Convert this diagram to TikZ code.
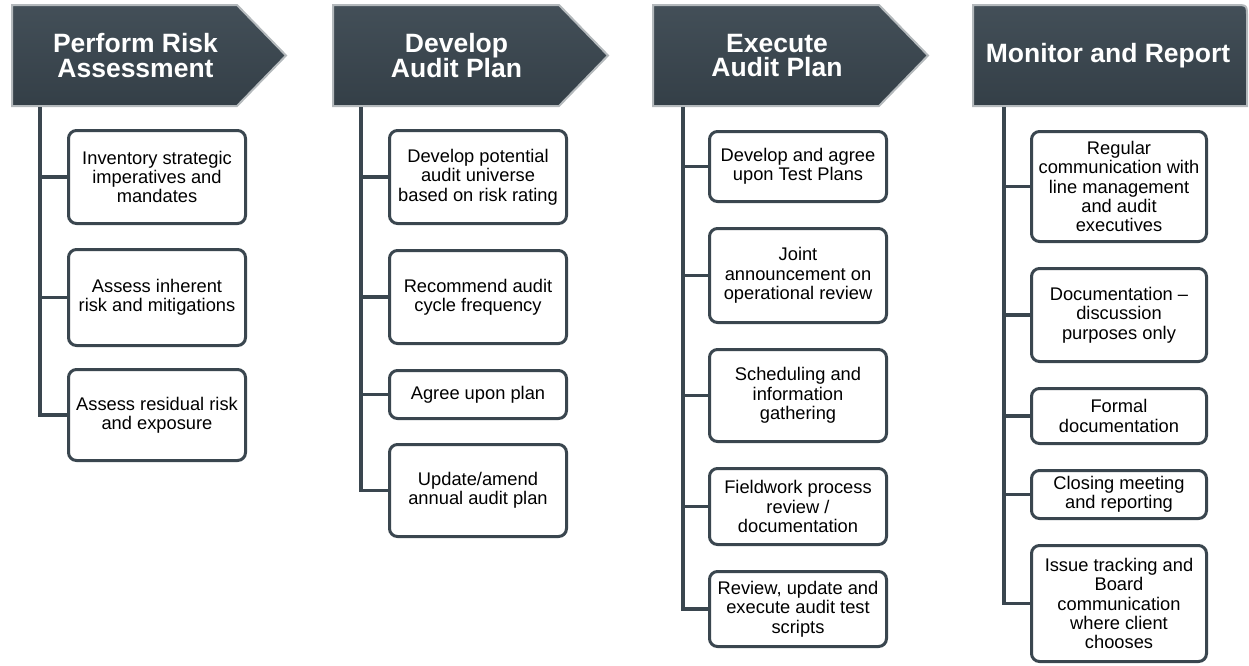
\documentclass[tikz,border=0pt]{standalone}
\usepackage{fontspec}
\setmainfont{Liberation Sans}
\definecolor{slate}{HTML}{3A464F}
\definecolor{htop}{HTML}{434F58}
\definecolor{hbot}{HTML}{343F47}
\definecolor{hedge}{HTML}{B4B9BC}
\begin{document}
\begin{tikzpicture}[x=1pt,y=-1pt,
  header/.style={top color=htop, bottom color=hbot, draw=hedge, line width=2pt, line join=miter},
  htext/.style={text=white, font=\bfseries\fontsize{26.5}{24.3}\selectfont, align=center, inner sep=0pt},
  box/.style={draw=slate, line width=3pt, rounded corners=8pt, fill=white, align=center,
    font=\fontsize{18.3}{19.3}\selectfont, inner sep=1pt, text=black},
  box1/.style={box, minimum width=177pt},
  box4/.style={box, minimum width=175pt},
  conn/.style={draw=slate, line width=3.5pt}]
\useasboundingbox (0,0) rectangle (1249,665);

% headers
\shadedraw[header] (12,5) -- (237,5) -- (286,55.5) -- (237,106) -- (12,106) -- cycle;
\shadedraw[header] (333,5) -- (559,5) -- (608,55.5) -- (559,106) -- (333,106) -- cycle;
\shadedraw[header] (653,5) -- (879,5) -- (928,55.5) -- (879,106) -- (653,106) -- cycle;
\shadedraw[header] (973,5) -- (1235,5) .. controls (1247,5) .. (1247,17) -- (1247,106) -- (973,106) -- cycle;

\node[htext] (h1) at (135.5,55.5) {Perform Risk\\Assessment};
\node[htext] (h2) at (456.5,55.5) {Develop\\Audit Plan};
\node[htext] (h3) at (777,55.5) {Execute\\Audit Plan};
\node[htext] (h4) at (1108,56) {Monitor and Report};

\coordinate (s1) at (40,107);
\coordinate (s2) at (361,107);
\coordinate (s3) at (683,107);
\coordinate (s4) at (1004,107);

% column 1
\node[box1, minimum height=93pt] (b11) at (157,177) {Inventory strategic\\imperatives and\\mandates};
\node[box1, minimum height=96pt] (b12) at (157,297.5) {Assess inherent\\risk and mitigations};
\node[box1, minimum height=91pt] (b13) at (157,415) {Assess residual risk\\and exposure};

% column 2
\node[box1, minimum height=93pt] (b21) at (478,177) {Develop potential\\audit universe\\based on risk rating};
\node[box1, minimum height=93pt] (b22) at (478,297) {Recommend audit\\cycle frequency};
\node[box1, minimum height=48pt] (b23) at (478,394.5) {Agree upon plan};
\node[box1, minimum height=92pt] (b24) at (478,490.5) {Update/amend\\annual audit plan};

% column 3
\node[box1, minimum height=70pt] (b31) at (798,166.5) {Develop and agree\\upon Test Plans};
\node[box1, minimum height=94pt] (b32) at (798,275.5) {Joint\\announcement on\\operational review};
\node[box1, minimum height=92pt] (b33) at (798,395.5) {Scheduling and\\information\\gathering};
\node[box1, minimum height=76pt] (b34) at (798,506.5) {Fieldwork process\\review /\\documentation};
\node[box1, minimum height=75pt] (b35) at (798,609) {Review, update and\\execute audit test\\scripts};

% column 4
\node[box4, minimum height=110pt] (b41) at (1119,186.5) {Regular\\communication with\\line management\\and audit\\executives};
\node[box4, minimum height=93pt] (b42) at (1119,315) {Documentation –\\discussion\\purposes only};
\node[box4, minimum height=55pt] (b43) at (1119,416) {Formal\\documentation};
\node[box4, minimum height=48pt] (b44) at (1119,494.5) {Closing meeting\\and reporting};
\node[box4, minimum height=116pt] (b45) at (1119,603.5) {Issue tracking and\\Board\\communication\\where client\\chooses};

% connectors
\foreach \c/\n in {1/3,2/4,3/5,4/5}{
  \foreach \i in {1,...,\n}{
    \draw[conn] (s\c) |- (b\c\i.west);
  }
}
\end{tikzpicture}
\end{document}
